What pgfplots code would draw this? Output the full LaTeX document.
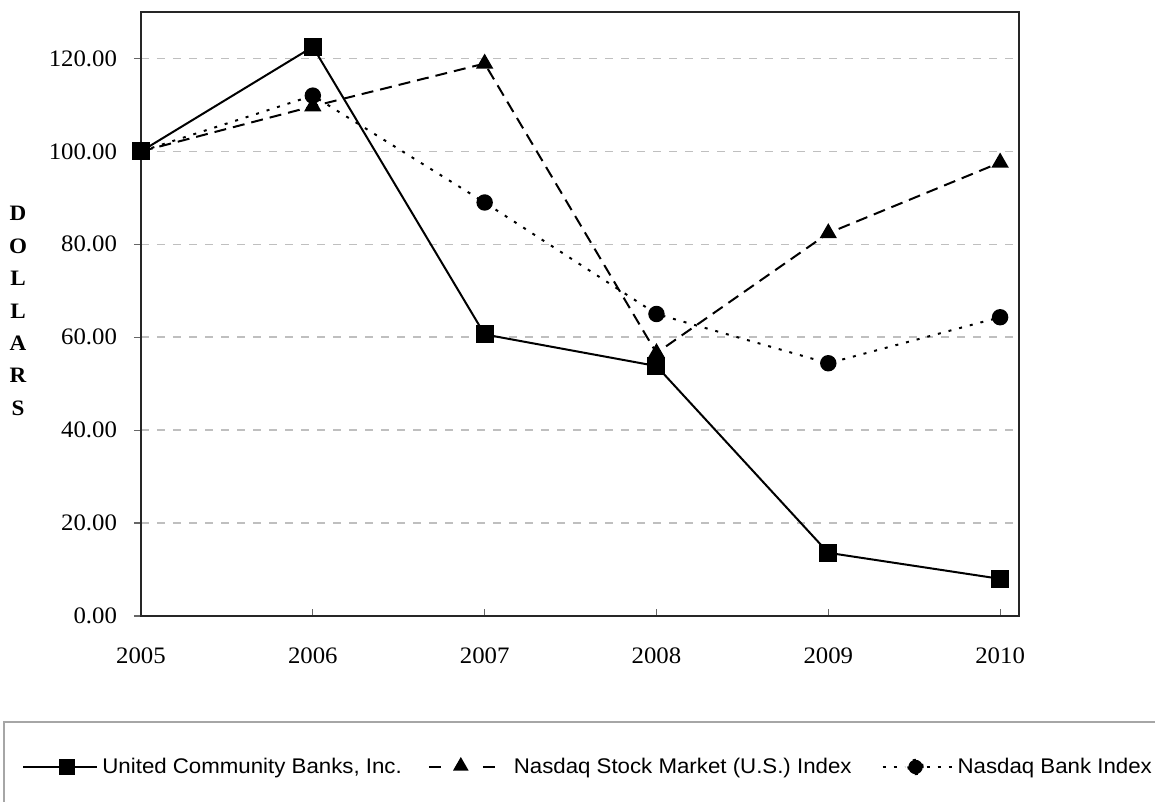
\documentclass[border=0pt]{standalone}
\usepackage{fontspec}
\setmainfont[FakeStretch=1.05]{Liberation Serif}
\newfontfamily\legfont[FakeStretch=1.05]{Liberation Sans}
\usepackage{pgfplots}
\pgfplotsset{compat=1.18}
\usetikzlibrary{shapes.geometric}
\begin{document}
\begin{tikzpicture}
\useasboundingbox (-70.5pt,-93pt) rectangle (507pt,308pt);
\draw[black!35, line width=0.8pt] (-68.5pt,-53pt) rectangle (540pt,-140pt);
\begin{axis}[
  at={(0,0)}, anchor=south west,
  scale only axis, width=439pt, height=302pt,
  xmin=0, xmax=5.11, ymin=0, ymax=130,
  xtick={0,1,2,3,4,5},
  xticklabels={2005,2006,2007,2008,2009,2010},
  ytick={0,20,40,60,80,100,120},
  yticklabel style={/pgf/number format/fixed, /pgf/number format/fixed zerofill, /pgf/number format/precision=2, /pgf/number format/1000 sep={}, xshift=-5pt},
  /pgf/number format/assume math mode=true,
  tick label style={font=\fontsize{11.8}{13}\selectfont},
  xticklabel style={yshift=-12.5pt},
  xtick pos=bottom, ytick pos=left,
  xtick align=inside, ytick align=outside,
  major tick length=3.5pt,
  tick style={black!60, line width=0.6pt},
  axis line style={black!85, line width=1pt},
  ymajorgrids,
  major grid style={black!25, dash pattern=on 4pt off 4pt, line width=0.8pt},
  clip=false,
  legend columns=-1,
  legend style={at={(-0.1355,-0.25)}, anchor=west, draw=none, fill=none,
    inner sep=0pt, font=\legfont\fontsize{10.6}{12}\selectfont,
    /tikz/every odd column/.append style={column sep=0pt},
    /tikz/every even column/.append style={column sep=9pt}},
]
\addplot[black, line width=1pt, mark=square*, mark size=4pt,
  legend image code/.code={\draw[black, line width=1pt] (0pt,0pt) -- (37pt,0pt);
    \draw[black, fill=black] (18.5pt,-3.5pt) rectangle (25.5pt,3.5pt);}]
  coordinates {(0,100) (1,122.5) (2,60.6) (3,53.8) (4,13.6) (5,8.0)};
\addlegendentry{United Community Banks, Inc.}
\addplot[black, line width=1pt, dash pattern=on 6pt off 3.5pt, mark=triangle*, mark size=4pt,
  mark options={solid},
  legend image code/.code={\path (-2pt,0pt);
    \draw[black, line width=1pt] (0pt,0pt) -- (6pt,0pt);
    \draw[black, line width=1pt] (27pt,0pt) -- (33pt,0pt);
    \path (40pt,0pt);
    \node[draw=none, fill=black, regular polygon, regular polygon sides=3, inner sep=0pt, minimum size=9pt] at (16pt,0.5pt) {};}]
  coordinates {(0,100) (1,109.7) (2,118.9) (3,56.6) (4,82.4) (5,97.6)};
\addlegendentry{Nasdaq Stock Market (U.S.) Index}
\addplot[black, line width=1pt, dash pattern=on 1.5pt off 4pt, mark=*, mark size=3.6pt,
  mark options={solid},
  legend image code/.code={\path (-4pt,0pt);
    \draw[black, line width=1pt, dash pattern=on 1.5pt off 4pt] (0pt,0pt) -- (11pt,0pt);
    \draw[black, line width=1pt, dash pattern=on 1.5pt off 4pt] (22pt,0pt) -- (35pt,0pt);
    \fill[black] (16.5pt,0pt) circle (3.6pt);}]
  coordinates {(0,100) (1,112.0) (2,89.0) (3,65.0) (4,54.4) (5,64.3)};
\addlegendentry{Nasdaq Bank Index}
\end{axis}
\node[font=\bfseries\fontsize{11}{16.2}\selectfont, align=center] at (-61.5pt,152.5pt)
  {D\\O\\L\\L\\A\\R\\S};
\end{tikzpicture}
\end{document}
